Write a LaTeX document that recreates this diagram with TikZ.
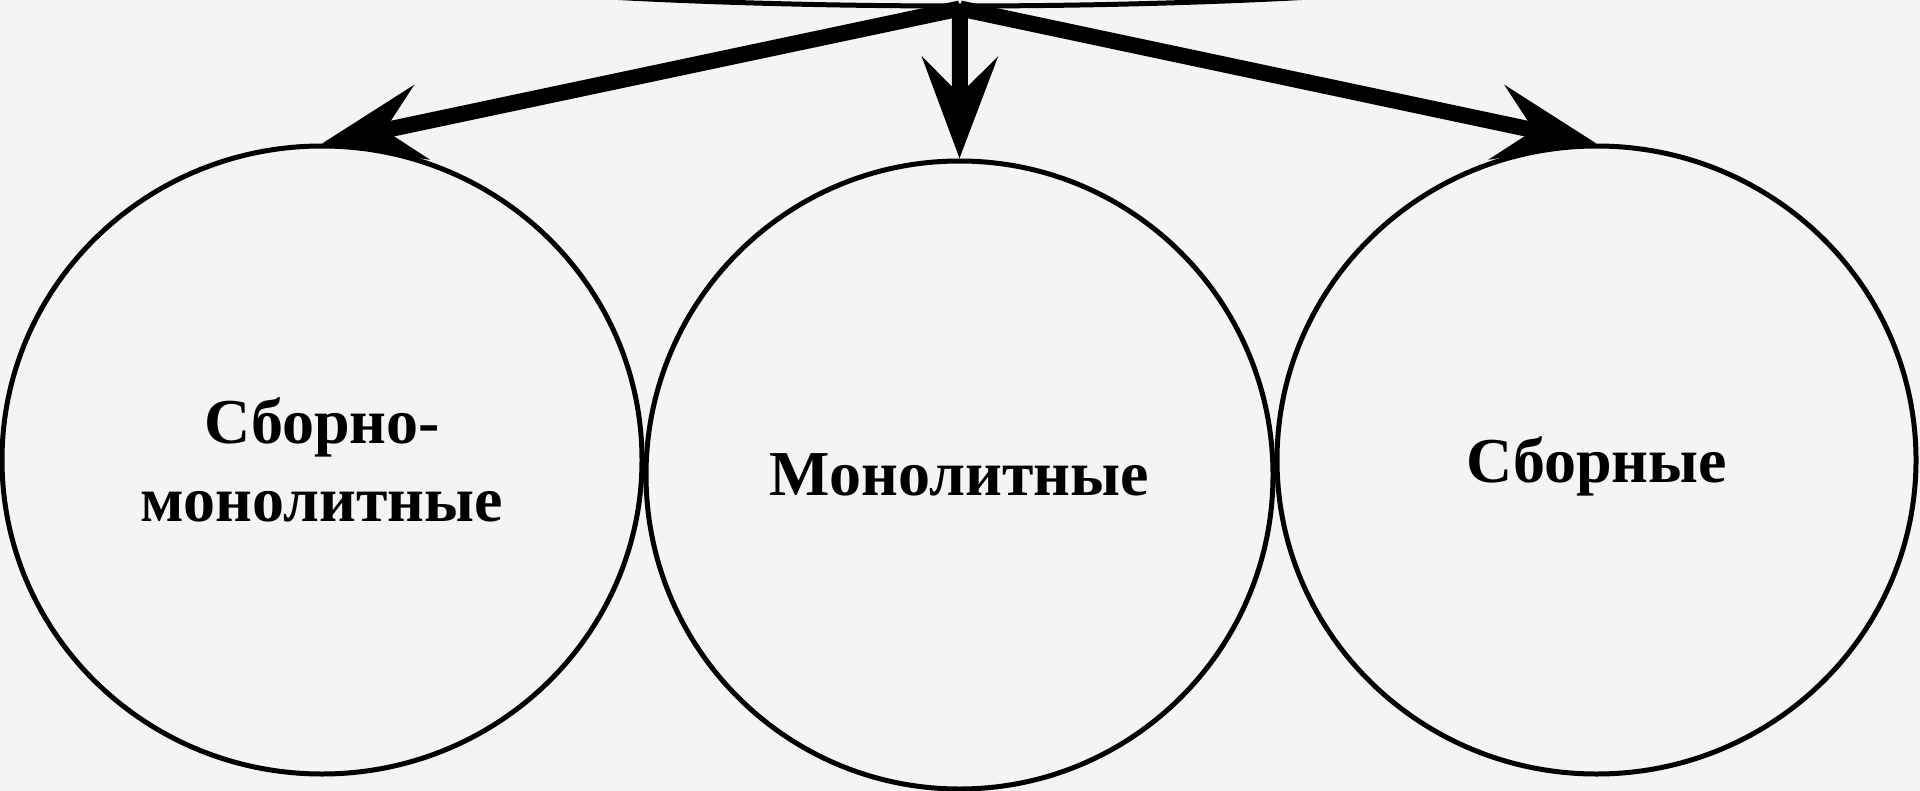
\documentclass[tikz,border=0pt]{standalone}
\usepackage{fontspec}
\setmainfont{Liberation Serif}
\usetikzlibrary{arrows.meta,shapes.geometric}
\definecolor{bg}{HTML}{F4F4F4}
\begin{document}
\begin{tikzpicture}[x=0.5pt,y=-0.5pt,
  oval/.style={ellipse,draw=black,line width=2.5pt,inner sep=0pt,
    font=\bfseries\fontsize{32}{39}\selectfont,align=center,text depth=0pt},
  link/.style={line width=8pt,-{Stealth[length=50.5pt,width=37.5pt,inset=18.5pt]}}]
\fill[bg] (0,0) rectangle (1920,791);
\useasboundingbox (0,0) rectangle (1920,791);
\clip (0,0) rectangle (1920,791);
\node[oval,minimum width=924pt,minimum height=120pt] (top) at (960,-114) {};
\node[oval,minimum width=320pt,minimum height=314pt] (L) at (322,460) {Сборно-\\монолитные};
\node[oval,minimum width=313.5pt,minimum height=314pt] (M) at (959.5,475) {Монолитные};
\node[oval,minimum width=319.5pt,minimum height=314pt] (R) at (1596.5,460) {Сборные};
\draw[link] (top.south) -- (L.north);
\draw[link] (top.south) -- (M.north);
\draw[link] (top.south) -- (R.north);
\end{tikzpicture}
\end{document}
